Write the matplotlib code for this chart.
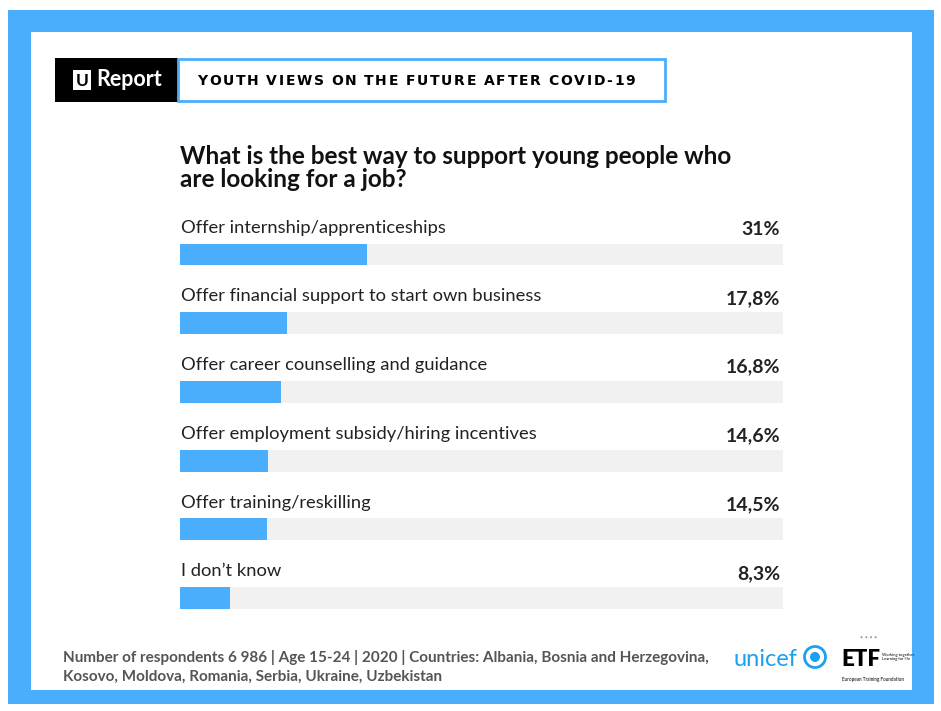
import matplotlib.pyplot as plt
from matplotlib.patches import Rectangle, Circle

plt.rcParams['font.family'] = ['Lato', 'DejaVu Sans']

# data
categories = [
    "Offer internship/apprenticeships",
    "Offer financial support to start own business",
    "Offer career counselling and guidance",
    "Offer employment subsidy/hiring incentives",
    "Offer training/reskilling",
    "I don\u2019t know",
]
values = [31, 17.8, 16.8, 14.6, 14.5, 8.3]
value_labels = ["31%", "17,8%", "16,8%", "14,6%", "14,5%", "8,3%"]

title = "What is the best way to support young people who\nare looking for a job?"
header = "YOUTH VIEWS ON THE FUTURE AFTER COVID-19"
footnote = ("Number of respondents 6 986 | Age 15-24 | 2020 | Countries: Albania, Bosnia and Herzegovina,\n"
            "Kosovo, Moldova, Romania, Serbia, Ukraine, Uzbekistan")

BLUE = '#4baefc'
TRACK = '#f1f1f1'

W, H = 941, 711
fig = plt.figure(figsize=(W / 100, H / 100), dpi=100)
bg = fig.add_axes([0, 0, 1, 1])
bg.set_xlim(0, W)
bg.set_ylim(H, 0)
bg.axis('off')

# blue frame
bg.add_patch(Rectangle((8, 10), 926, 694, color=BLUE, lw=0))
bg.add_patch(Rectangle((31, 32), 881, 658, color='white', lw=0))

# header
bg.add_patch(Rectangle((55, 58), 123, 44, color='black', lw=0))
bg.add_patch(Rectangle((178, 59), 487, 42, facecolor='white', edgecolor=BLUE, lw=2))
bg.add_patch(Rectangle((73, 70), 18, 20, facecolor='white', edgecolor='white', lw=0))
bg.text(82, 80.5, "U", color='black', fontsize=12.5, fontweight='bold', ha='center', va='center')
bg.text(96, 80, "Report", color='white', fontsize=15.5, fontweight='bold', ha='left', va='center')

# letter-spaced header text
fig.canvas.draw()
r = fig.canvas.get_renderer()
x = 197
for ch in header:
    t = bg.text(x, 81, ch, fontsize=10, fontweight='heavy', ha='left', va='center',
                family=['DejaVu Sans'])
    w = t.get_window_extent(r).width if ch != ' ' else 4
    x += w + 1.75

# title
bg.text(180, 168, title, fontsize=17.5, fontweight='bold', ha='left', va='center',
        linespacing=0.95, color='#111111')

# bars drawn in a dedicated axes (row 0 centred at 254.5 px, 68.7 px per row)
top_px, bot_px = 220, 632
bar_ax = fig.add_axes([180 / W, 1 - bot_px / H, (783 - 180) / W, (bot_px - top_px) / H])
bar_ax.set_xlim(0, 100)
n = len(categories)
bar_ax.set_ylim((bot_px - 254.5) / 68.7, (top_px - 254.5) / 68.7)
bar_ax.axis('off')
ypos = list(range(n))
bar_ax.barh(ypos, [100] * n, height=0.32, color=TRACK, lw=0)
bar_ax.barh(ypos, values, height=0.32, color=BLUE, lw=0)
for y, cat, lab in zip(ypos, categories, value_labels):
    bar_ax.text(0.2, y - 0.39, cat, fontsize=13.2, color='#222222', ha='left', va='center')
    bar_ax.text(99.5, y - 0.36, lab, fontsize=14, fontweight='bold', color='#222222',
                ha='right', va='center')

# footnote
bg.text(63, 667, footnote, fontsize=11, fontweight='bold', color='#555555', ha='left',
        va='center', linespacing=1.45)

# logos
bg.text(734, 660, "unicef", fontsize=17, color='#1ca0f2', ha='left', va='center')
bg.add_patch(Circle((815, 657), 10.5, facecolor='none', edgecolor='#1ca0f2', lw=2))
bg.add_patch(Circle((815, 657), 5, color='#1ca0f2', lw=0))
bg.text(841, 660, "ETF", fontsize=16, fontweight='heavy', ha='left', va='center')
bg.text(882, 657, "Working together\nLearning for life", fontsize=3, ha='left', va='center')
bg.text(842, 679, "European Training Foundation", fontsize=3.3, ha='left', va='center')
bg.text(860, 639, "* * * *", fontsize=5, color='#555555', ha='left', va='center')

fig.savefig('out.png', dpi=100)
